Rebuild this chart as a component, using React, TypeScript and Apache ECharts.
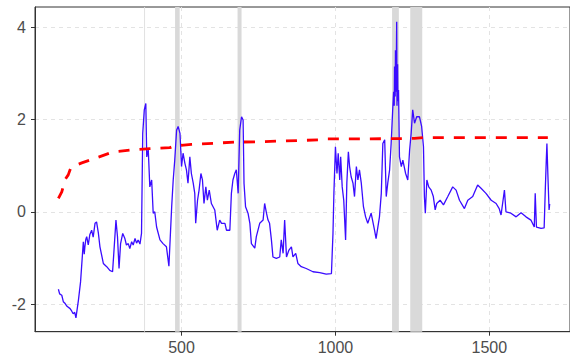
import React, { useEffect, useRef } from "react";
import * as echarts from "echarts";

// Blue series: [x, value]
const blueX = [
  100, 104, 111, 116, 122, 128, 138, 143, 148, 153, 157, 165, 172, 181, 184, 186, 189, 192, 197, 202, 208, 213, 219, 224, 230, 235, 246, 257, 267,
  276, 280, 287, 292, 297, 302, 309, 316, 321, 327, 332, 338, 343, 349, 354, 359, 365, 370, 374, 379, 384, 387, 392, 397, 403,
  408, 413, 419, 430, 440, 451, 459, 468, 473, 478, 484, 489, 495, 500, 505, 511, 516, 521, 527, 532,
  538, 543, 546, 552, 557, 563, 568, 573, 579, 584, 590, 597, 608, 616, 624, 630, 641, 646, 657, 662,
  667, 673, 678, 684, 689, 695, 700, 703, 708, 716, 722, 727, 738, 743, 754, 765, 770, 776, 781, 786,
  792, 797, 808, 819, 824, 830, 835, 841, 849, 857, 862, 871, 878, 889, 905, 927, 949, 970, 987, 992,
  995, 1000, 1005, 1009, 1014, 1017, 1022, 1027, 1033, 1037, 1042, 1046, 1051, 1057, 1062, 1068, 1073, 1078, 1084, 1091,
  1098, 1105, 1116, 1127, 1132, 1143, 1149, 1154, 1160, 1165, 1170, 1176, 1181, 1186, 1189, 1191, 1192, 1194, 1195, 1197, 1199, 1200, 1202, 1203, 1205, 1208,
  1214, 1219, 1228, 1235, 1241, 1246, 1251, 1257, 1264, 1273, 1280, 1286, 1289, 1292, 1297, 1303, 1311, 1318, 1324, 1329,
  1340, 1351, 1365, 1381, 1392, 1403, 1419, 1430, 1446, 1462, 1473, 1489, 1506, 1522, 1532, 1538, 1549, 1554, 1570, 1587,
  1603, 1619, 1635, 1646, 1649, 1653, 1668, 1678, 1682, 1685, 1687, 1690, 1694, 1696,
];
const blueY = [
  -1.68, -1.78, -1.81, -1.95, -1.99, -2.05, -2.1, -2.15, -2.21, -2.18, -2.3, -1.92, -1.52, -0.65, -0.92, -0.76, -0.6, -0.54, -0.72, -0.5, -0.4, -0.55, -0.25, -0.22, -0.47, -0.76, -1.12, -1.19, -1.27,
  -1.3, -0.9, -0.18, -0.54, -1.23, -0.69, -0.47, -0.58, -0.72, -0.69, -0.8, -0.65, -0.72, -0.58, -0.68, -0.61, -0.7, -0.47, 1.7, 2.21, 2.35, 1.19, 1.34, 0.54, 0.69,
  -0.03, 0.0, -0.33, -0.61, -0.69, -0.76, -1.18, 0.11, 0.69, 1.12, 1.77, 1.85, 1.7, 0.98, 1.27, 1.05, 0.91, 0.62, 1.19, 0.83,
  0.62, 0.4, -0.25, 0.25, 0.47, 0.83, 0.69, 0.18, 0.54, 0.25, 0.47, 0.18, 0.04, -0.4, -0.18, -0.25, -0.25, -0.4, -0.4, 0.4,
  0.69, 0.83, 0.91, 0.4, 1.77, 2.06, 1.99, 0.62, 0.11, -0.03, -0.25, -0.69, -0.79, -0.54, -0.25, -0.18, 0.18, -0.03, -0.18, -0.25,
  -0.61, -0.98, -1.01, -0.98, -0.61, -0.9, -0.18, -0.98, -0.83, -0.76, -0.98, -0.9, -1.12, -1.19, -1.23, -1.3, -1.32, -1.35, -1.34, -0.47,
  0.4, 1.41, 0.83, 1.27, 0.69, 1.19, 0.54, 0.25, -0.61, 0.62, 1.3, 0.98, 0.76, 0.62, 0.33, 0.98, 0.69, 0.91, 0.62, 0.11,
  -0.11, -0.25, -0.03, -0.4, -0.58, -0.11, 0.4, 1.48, 1.56, 0.33, 0.62, 0.91, 1.48, 2.21, 2.6, 2.3, 3.15, 2.5, 3.5, 2.6, 4.12, 2.3, 3.2, 2.4, 2.64, 1.19,
  0.98, 1.12, 0.83, 0.69, 1.34, 1.7, 2.21, 1.92, 2.06, 2.06, 1.85, 1.41, 0.33, -0.03, 0.69, 0.54, 0.47, 0.33, 0.04, 0.18,
  0.25, 0.15, 0.33, 0.54, 0.47, 0.25, 0.07, 0.25, 0.33, 0.58, 0.51, 0.4, 0.25, 0.18, 0.07, -0.07, 0.47, 0.0, -0.03, -0.11,
  -0.02, -0.11, -0.18, -0.33, 0.4, -0.33, -0.36, -0.35, 0.54, 1.12, 1.48, 0.83, 0.04, 0.17,
];

// Red dashed series
const redX = [100, 111, 122, 132, 140, 154, 176, 224, 278, 338, 397, 462, 478, 532, 673, 759, 949, 965, 1100, 1257, 1289, 1690];
const redY = [0.29, 0.43, 0.7, 0.8, 0.95, 1.0, 1.06, 1.17, 1.3, 1.34, 1.37, 1.39, 1.43, 1.46, 1.51, 1.52, 1.56, 1.58, 1.58, 1.59, 1.61, 1.61];

// Shaded periods
const bandStart = [378.5, 479, 682, 1184, 1243];
const bandEnd = [381.5, 494, 695, 1206, 1282];
const bandColor = ["#dedede", "#d9d9d9", "#d9d9d9", "#d9d9d9", "#d9d9d9"];

const xTicks = [500, 1000, 1500];
const yTicks = [-2, 0, 2, 4];

export default function App() {
  const ref = useRef<HTMLDivElement>(null);
  useEffect(() => {
    if (!ref.current) return;
    const chart = echarts.init(ref.current, null, { renderer: "svg" });
    const blue = blueX.map((x, i) => [x, blueY[i]]);
    const red = redX.map((x, i) => [x, redY[i]]);
    const bands = bandStart.map((s, i) => [
      { xAxis: s, itemStyle: { color: bandColor[i] } },
      { xAxis: bandEnd[i] },
    ]);
    const font = { fontFamily: "Liberation Sans, Arial, sans-serif", fontSize: 16, color: "#4d4d4d" };
    chart.setOption({
      animation: false,
      backgroundColor: "#ffffff",
      grid: {
        left: 35,
        top: 7,
        width: 536,
        height: 324.7,
        show: true,
        borderColor: "#333333",
        borderWidth: 1,
        backgroundColor: "transparent",
      },
      xAxis: {
        type: "value",
        min: 24,
        max: 1762,
        axisLine: { show: true, onZero: false, lineStyle: { color: "#333333", width: 1 } },
        axisTick: { show: true, length: 4, customValues: xTicks, lineStyle: { color: "#333333" } },
        axisLabel: { customValues: xTicks, margin: 8, formatter: (v: number) => String(v), ...font },
        splitLine: { show: true, lineStyle: { color: "#e3e3e3", type: [4, 4], width: 1 } },
      },
      yAxis: {
        type: "value",
        min: -2.6,
        max: 4.44,
        axisLine: { show: true, onZero: false, lineStyle: { color: "#333333", width: 1 } },
        axisTick: { show: true, length: 4, customValues: yTicks, lineStyle: { color: "#333333" } },
        axisLabel: { customValues: yTicks, margin: 9, formatter: (v: number) => String(v), ...font },
        splitLine: { show: true, lineStyle: { color: "#e3e3e3", type: [4, 4], width: 1 } },
      },
      series: [
        {
          type: "line",
          data: blue,
          symbol: "none",
          z: 2,
          lineStyle: { color: "#3a0cff", width: 1.3 },
          markArea: { silent: true, z: 1, itemStyle: { color: "#d9d9d9" }, data: bands },
        },
        {
          type: "line",
          data: red,
          symbol: "none",
          smooth: false,
          z: 3,
          lineStyle: { color: "#ff0000", width: 2.8, type: [11, 10], cap: "butt" },
        },
      ],
    });
    return () => chart.dispose();
  }, []);
  return <div ref={ref} style={{ position: "fixed", left: 0, top: 0, width: 570, height: 363 }} />;
}
